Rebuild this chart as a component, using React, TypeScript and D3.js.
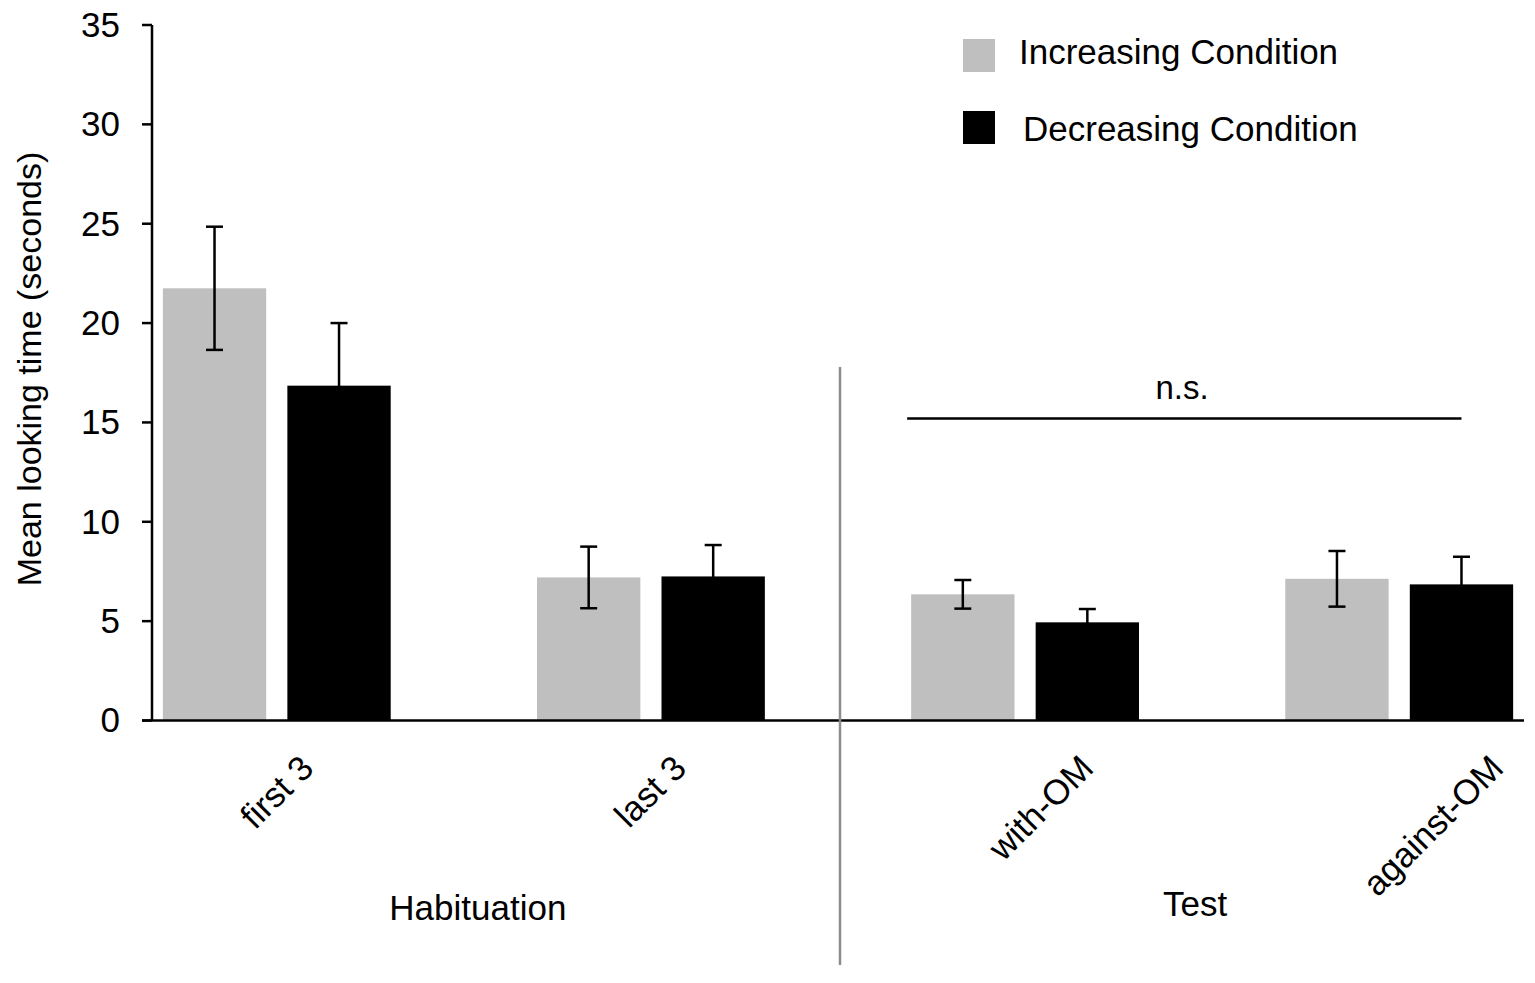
import React from 'react';
import * as d3 from 'd3';

const categories = ['first 3', 'last 3', 'with-OM', 'against-OM'];
const series = ['Increasing Condition', 'Decreasing Condition'];
const increasing = [21.75, 7.2, 6.35, 7.13];
const increasingErr = [3.1, 1.55, 0.72, 1.4];
const decreasing = [16.85, 7.25, 4.94, 6.85];
const decreasingErr = [3.15, 1.58, 0.67, 1.39];
const yTicks = [0, 5, 10, 15, 20, 25, 30, 35];
const phases = [
  { label: 'Habituation', from: 'first 3', to: 'last 3' },
  { label: 'Test', from: 'with-OM', to: 'against-OM' },
];
const nsLevel = 15.2;

const colors = ['#bfbfbf', '#000000'];
const font = '"Liberation Sans", Arial, sans-serif';
const tickFont = 35;

// rough text width, used to place the rotated category labels
function textWidth(s: string, size: number) {
  const ctx = document.createElement('canvas').getContext('2d');
  if (!ctx) return s.length * size * 0.5;
  ctx.font = `${size}px ${font}`;
  return ctx.measureText(s).width;
}

function App() {
  const width = 1535;
  const height = 983;
  const left = 152;
  const right = 1524;

  const x = d3.scaleBand<string>().domain(categories).range([left, right]).paddingInner(0.391).paddingOuter(0.029);
  const inner = d3.scaleBand<string>().domain(series).range([0, x.bandwidth()]).paddingInner(0.17);
  const y = d3.scaleLinear().domain([0, 35]).range([720.5, 25]);

  const values = [increasing, decreasing];
  const errs = [increasingErr, decreasingErr];
  const center = (c: string) => (x(c) as number) + x.bandwidth() / 2;
  const sepX = (center('last 3') + center('with-OM')) / 2 + 2;
  const cap = 8.5;

  return (
    <svg width={width} height={height} style={{ position: 'absolute', left: 0, top: 0, background: '#fff' }} fontFamily={font}>
      {/* bars */}
      {series.map((s, si) =>
        categories.map((c, ci) => (
          <rect
            key={s + c}
            x={(x(c) as number) + (inner(s) as number)}
            y={y(values[si][ci])}
            width={inner.bandwidth()}
            height={y(0) - y(values[si][ci])}
            fill={colors[si]}
          />
        ))
      )}
      {/* error bars */}
      {series.map((s, si) =>
        categories.map((c, ci) => {
          const cx = (x(c) as number) + (inner(s) as number) + inner.bandwidth() / 2;
          const hi = y(values[si][ci] + errs[si][ci]);
          const lo = y(values[si][ci] - errs[si][ci]);
          return (
            <g key={'e' + s + c} stroke="#000" strokeWidth={2.5}>
              <line x1={cx} x2={cx} y1={hi} y2={lo} />
              <line x1={cx - cap} x2={cx + cap} y1={hi} y2={hi} />
              <line x1={cx - cap} x2={cx + cap} y1={lo} y2={lo} />
            </g>
          );
        })
      )}
      {/* y axis */}
      <line x1={left} x2={left} y1={y(35)} y2={y(0)} stroke="#000" strokeWidth={2.5} />
      {yTicks.map((t) => (
        <g key={t}>
          <line x1={left - 10} x2={left} y1={y(t)} y2={y(t)} stroke="#000" strokeWidth={2.5} />
          <text x={120} y={y(t)} dy="0.34em" textAnchor="end" fontSize={35}>
            {t}
          </text>
        </g>
      ))}
      {/* x axis */}
      <line x1={left - 10} x2={right} y1={y(0)} y2={y(0)} stroke="#000" strokeWidth={2.5} />
      {categories.map((c) => {
        // the rotated label's bounding box hangs from a fixed corner below the tick
        const half = (textWidth(c, tickFont) + tickFont * 0.85) / (2 * Math.SQRT2);
        const tx = center(c) - 41 + half;
        const ty = 751 + half;
        return (
          <text key={c} x={tx} y={ty} dy="0.35em" textAnchor="middle" fontSize={tickFont} transform={`rotate(-45 ${tx} ${ty})`}>
            {c}
          </text>
        );
      })}
      {/* separator */}
      <line x1={sepX} x2={sepX} y1={367} y2={965} stroke="#8c8c8c" strokeWidth={2.5} />
      {/* phase labels */}
      {phases.map((p) => (
        <text
          key={p.label}
          x={(center(p.from) + center(p.to)) / 2 + (p.label === 'Test' ? -17 : 14)}
          y={p.label === 'Test' ? 916 : 920}
          textAnchor="middle"
          fontSize={35}
        >
          {p.label}
        </text>
      ))}
      {/* n.s. bracket */}
      <line
        x1={(x('with-OM') as number) - 4}
        x2={(x('against-OM') as number) + (inner(series[1]) as number) + inner.bandwidth() / 2}
        y1={y(nsLevel)}
        y2={y(nsLevel)}
        stroke="#000"
        strokeWidth={2.5}
      />
      <text x={1182} y={399} textAnchor="middle" fontSize={33}>
        n.s.
      </text>
      {/* y title */}
      <text x={0} y={0} transform="translate(41,369) rotate(-90)" textAnchor="middle" fontSize={34}>
        Mean looking time (seconds)
      </text>
      {/* legend */}
      {series.map((s, si) => (
        <g key={'l' + s}>
          <rect x={963} y={si === 0 ? 39 : 111} width={32} height={33} fill={colors[si]} />
          <text x={si === 0 ? 1019 : 1023} y={si === 0 ? 64 : 141} fontSize={35}>
            {s}
          </text>
        </g>
      ))}
    </svg>
  );
}

export default App;
